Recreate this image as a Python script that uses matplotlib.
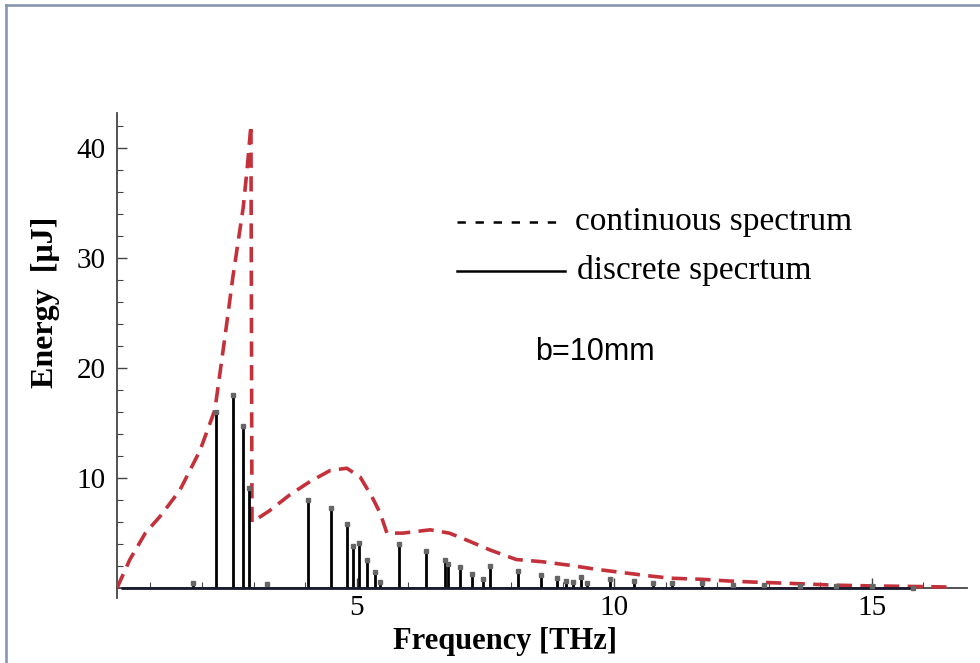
import numpy as np
import matplotlib
matplotlib.use("Agg")
import matplotlib.pyplot as plt
from matplotlib.lines import Line2D
from matplotlib.ticker import MultipleLocator

# continuous spectrum (red dashed curve)
freq_cont = [0.35, 0.6, 0.9, 1.2, 1.57, 1.96, 2.25, 2.45, 2.6, 2.8, 2.88, 2.95, 2.97,
             3.3, 3.71, 4.1, 4.49, 4.81, 5.07, 5.3, 5.46, 5.59, 5.9, 6.43, 6.8, 7.07,
             7.6, 8.1, 8.6, 9.1, 9.67, 10.25, 10.7, 11.1, 11.7, 12.25, 12.7, 13.3,
             13.8, 14.25, 15.0, 15.8, 16.5]
energy_cont = [0.0, 2.6, 5.0, 6.6, 8.9, 12.5, 16.2, 23.0, 28.3, 34.6, 38.3, 42.1, 6.0,
               7.0, 8.5, 9.7, 10.7, 10.9, 10.1, 8.3, 6.8, 5.0, 5.0, 5.3, 5.0, 4.5,
               3.45, 2.6, 2.4, 2.1, 1.7, 1.36, 1.1, 0.9, 0.8, 0.64, 0.55, 0.45,
               0.36, 0.27, 0.2, 0.15, 0.1]

# discrete spectrum (black stems)
freq_disc = [1.83, 2.27, 2.61, 2.80, 2.91, 3.26, 4.05, 4.50, 4.81, 4.94, 5.05, 5.21,
             5.35, 5.46, 5.83, 6.34, 6.71, 6.78, 7.00, 7.25, 7.45, 7.60, 8.13, 8.58,
             8.90, 9.06, 9.20, 9.36, 9.47, 9.92, 10.38, 10.76, 11.13, 11.70, 12.3,
             12.9, 13.6, 14.3, 15.0, 15.8]
energy_disc = [0.5, 16.0, 17.6, 14.7, 9.1, 0.35, 8.0, 7.3, 5.8, 3.8, 4.1, 2.6,
               1.5, 0.6, 4.0, 3.4, 2.6, 2.2, 1.9, 1.3, 0.8, 2.0, 1.6, 1.2,
               0.9, 0.65, 0.6, 1.0, 0.45, 0.8, 0.65, 0.5, 0.5, 0.45, 0.3,
               0.25, 0.2, 0.2, 0.15, 0.05]

yticks = [10, 20, 30, 40]
xticks = [5, 10, 15]

plt.rcParams['lines.scale_dashes'] = False
serif = ['Liberation Serif', 'DejaVu Serif']

fig = plt.figure(figsize=(9.8, 6.63), dpi=100)
W, H = 980, 663
ax = fig.add_axes([117 / W, 1 - 598 / H, 850 / W, 485 / H])
ax.set_xlim(0.35, 16.85)
ax.set_ylim(-0.9, 43.2)

red = '#c4313b'
ax.plot(freq_cont, energy_cont, color=red, lw=2.6, dashes=(11, 6), zorder=3)

ax.vlines(freq_disc, 0, energy_disc, color='black', lw=2.0, zorder=4)
ax.plot(freq_disc, energy_disc, 's', ms=2.2, color='#666666', zorder=5)
ax.hlines(0, freq_disc[0] - 1.4, freq_disc[-1], color='#1a1a2e', lw=2, zorder=4)

for s in ['top', 'right']:
    ax.spines[s].set_visible(False)
ax.spines['bottom'].set_position(('data', 0))
for s in ['left', 'bottom']:
    ax.spines[s].set_color('#444444')
    ax.spines[s].set_linewidth(1.3)

ax.set_yticks(yticks)
ax.set_xticks(xticks)
ax.yaxis.set_minor_locator(MultipleLocator(2))
ax.xaxis.set_minor_locator(MultipleLocator(1))
ax.tick_params(which='major', direction='in', length=7, width=1, color='#444444',
               labelsize=21, pad=8)
ax.tick_params(axis='x', which='major', pad=5)
ax.tick_params(which='minor', direction='in', length=4, width=0.8, color='#444444')
for lab in ax.get_xticklabels() + ax.get_yticklabels():
    lab.set_family(serif)

fig.text(505 / W, 1 - 642 / H, 'Frequency [THz]', family=serif, fontweight='bold',
         fontsize=22, ha='center', va='center')
fig.text(45 / W, 1 - 302 / H, 'Energy  [μJ]', family=serif, fontweight='bold',
         fontsize=23, ha='center', va='center', rotation=90)

# legend drawn by hand
fig.add_artist(Line2D([457 / W, 565 / W], [1 - 222 / H] * 2, color='black', lw=1.8,
                      dashes=(6, 7), transform=fig.transFigure))
fig.add_artist(Line2D([457 / W, 565 / W], [1 - 271 / H] * 2, color='black', lw=1.8,
                      transform=fig.transFigure))
fig.text(575 / W, 1 - 222 / H, 'continuous spectrum', family=serif, fontsize=24,
         ha='left', va='center')
fig.text(577 / W, 1 - 271 / H, 'discrete specrtum', family=serif, fontsize=24,
         ha='left', va='center')
fig.text(595 / W, 1 - 352 / H, 'b=10mm', family=['Liberation Sans', 'DejaVu Sans'],
         fontsize=22, ha='center', va='center')

# grey frame at top and left
fig.add_artist(Line2D([6 / W, 1], [1 - 5 / H] * 2, color='#8192aa', lw=1.8,
                      transform=fig.transFigure))
fig.add_artist(Line2D([6 / W] * 2, [0, 1 - 5 / H], color='#8192aa', lw=1.8,
                      transform=fig.transFigure))

fig.savefig('out.png', dpi=100)
